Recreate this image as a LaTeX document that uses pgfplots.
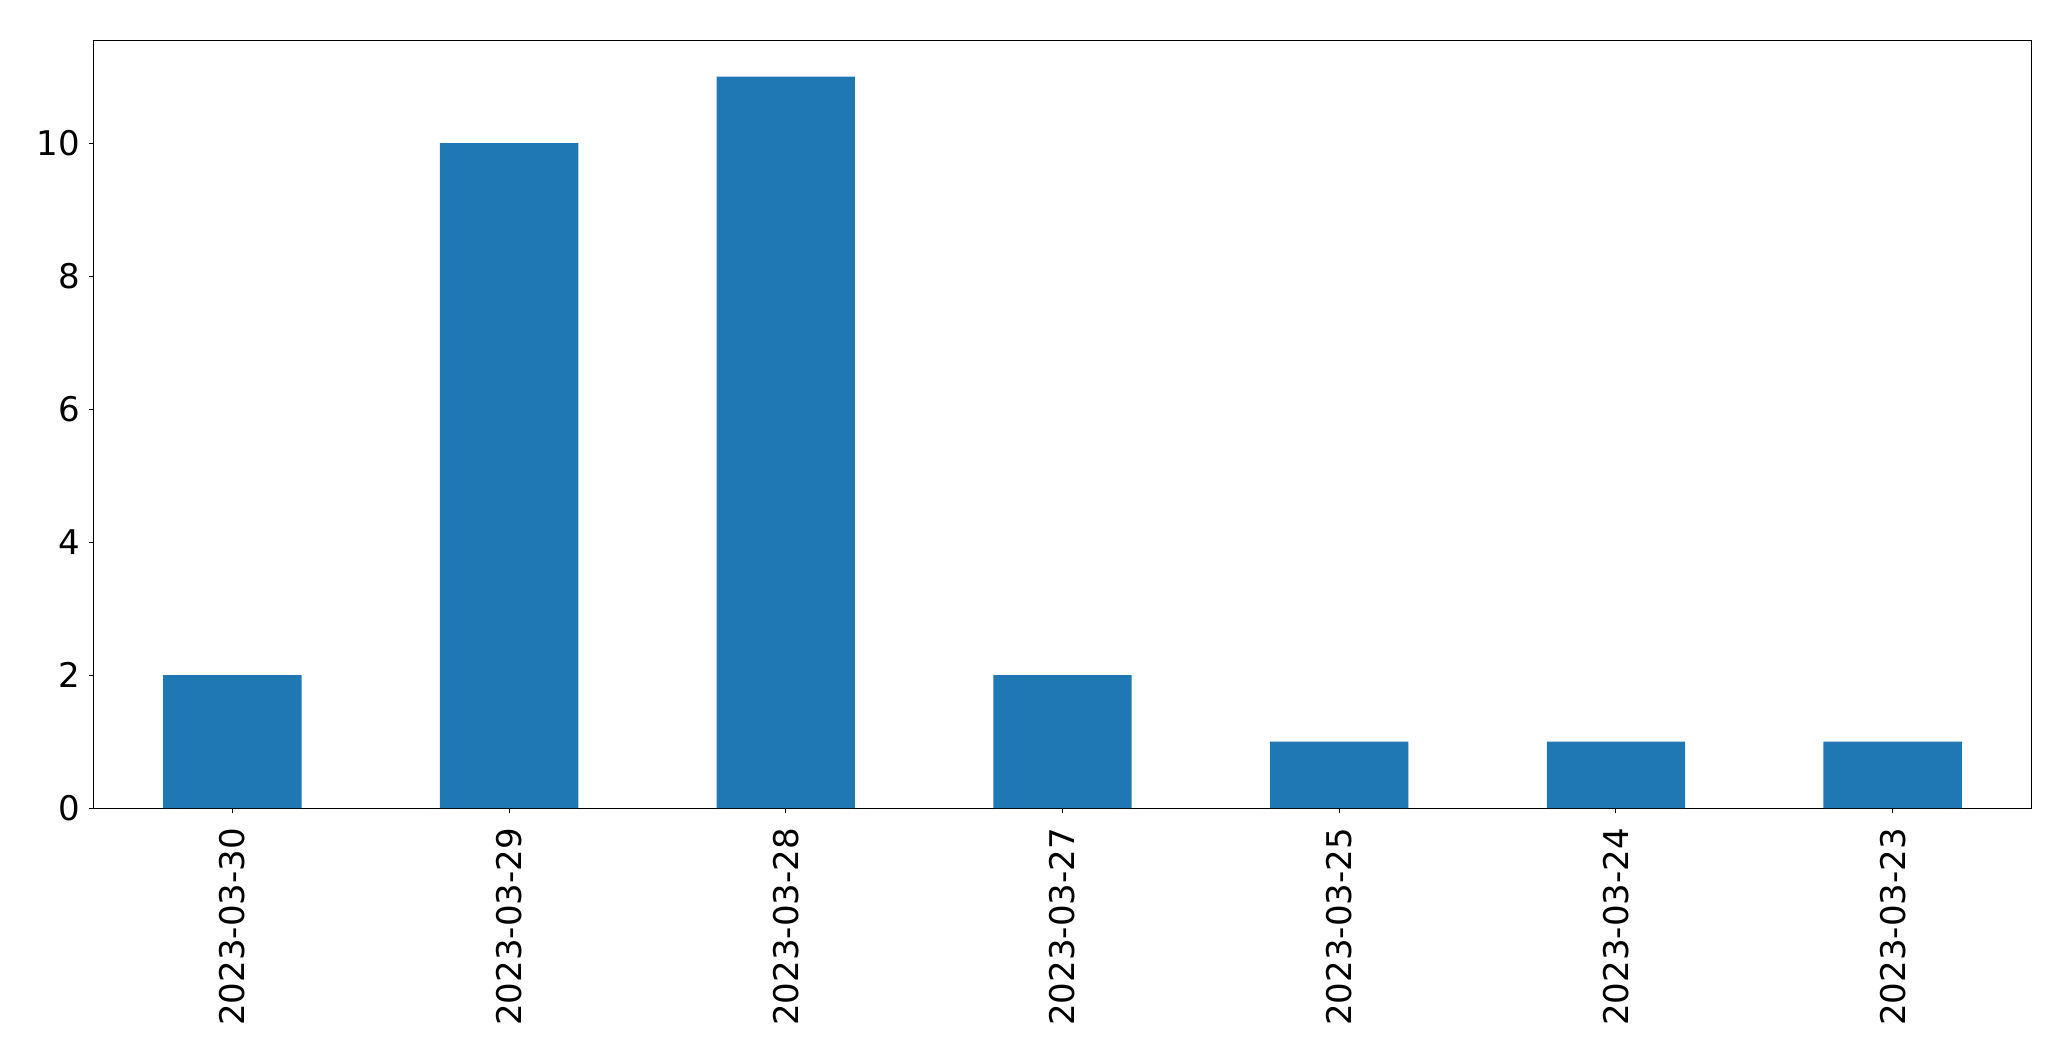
\documentclass[border=0pt]{standalone}
\usepackage{fontspec}
\setmainfont{DejaVu Sans}
\usepackage{pgfplots}
\pgfplotsset{compat=1.18}
\definecolor{mplblue}{HTML}{1F77B4}
\begin{document}
\begin{tikzpicture}
\path[use as bounding box] (-47pt,-126.5pt) rectangle (988.5pt,404pt);
\begin{axis}[
  scale only axis,
  width=968.5pt, height=384pt,
  at={(0pt,0pt)}, anchor=south west,
  xmin=-0.5, xmax=6.5, ymin=0, ymax=11.55,
  xtick={0,1,2,3,4,5,6},
  xticklabels={2023-03-30,2023-03-29,2023-03-28,2023-03-27,2023-03-25,2023-03-24,2023-03-23},
  x tick label style={rotate=90, anchor=east, font=\fontsize{17}{20}\selectfont, yshift=0pt, xshift=-4pt},
  ytick={0,2,4,6,8,10},
  y tick label style={font=\fontsize{17}{20}\selectfont, xshift=-1pt},
  /pgf/number format/assume math mode=true,
  tick align=outside,
  major tick length=2.5pt,
  tick style={black, line width=0.5pt},
  xtick pos=bottom, ytick pos=left,
  axis line style={line width=0.5pt},
  ybar, bar width=0.5,
]
\addplot[fill=mplblue, draw=none] coordinates {(0,2) (1,10) (2,11) (3,2) (4,1) (5,1) (6,1)};
\end{axis}
\end{tikzpicture}
\end{document}
